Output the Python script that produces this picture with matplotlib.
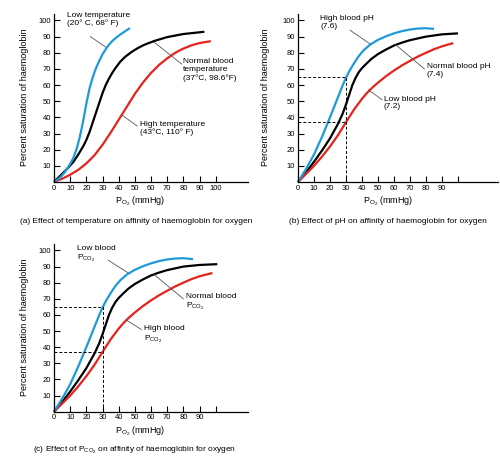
import matplotlib
matplotlib.use('Agg')
import matplotlib.pyplot as plt

plt.rcParams['font.family'] = 'Liberation Sans'
plt.rcParams['mathtext.fontset'] = 'custom'
plt.rcParams['mathtext.rm'] = 'Liberation Sans'
plt.rcParams['mathtext.it'] = 'Liberation Sans'

BLUE = '#1e9ad8'
RED = '#e3231c'
GREY = '#555555'

# (a) temperature
a_low_x = [0, 2, 4, 6, 8, 10, 12, 14, 16, 18, 20, 22, 24, 26, 28, 30, 32, 34, 36, 38, 40, 42, 44, 47]
a_low_y = [0, 1.3, 3, 5.2, 8, 11.2, 15, 20.5, 28, 37.5, 48.5, 58, 65, 70.5, 75, 79, 82.2, 85, 87.2,
           89, 90.6, 92, 93.3, 95.3]
a_norm_x = [0, 4, 8, 12, 15, 18, 20, 22, 24, 26, 28, 30, 32, 34, 36, 38, 41, 44, 48, 52, 56, 62, 70, 80, 93]
a_norm_y = [0, 4, 8, 12.5, 17, 22, 26, 31, 37, 43, 49, 55, 60, 64, 67.5, 70.5, 74.5, 77.5, 80.5, 83,
            85, 87.3, 89.7, 91.6, 93]
a_high_x = [0, 5, 10, 15, 20, 25, 30, 35, 40, 45, 50, 55, 60, 65, 70, 75, 80, 85, 90, 97]
a_high_y = [0, 2, 4.5, 7.5, 11.5, 16.5, 23, 30.5, 38.5, 46.5, 54.5, 61.5, 67.5, 72.5, 76.5, 80, 82.6,
            84.6, 86, 87.2]

# (b) pH
b_high_x = [0, 5, 10, 15, 20, 25, 28, 30, 32, 35, 38, 41, 45, 50, 55, 60, 65, 70, 75, 80, 85]
b_high_y = [0, 8, 17, 28, 40, 52.5, 60, 64.5, 68.5, 73.5, 78, 81.5, 85, 88, 90.2, 92, 93.4, 94.4, 95,
            95.2, 94.8]
b_norm_x = [0, 5, 10, 15, 20, 25, 28, 30, 32, 34, 36, 38, 40, 43, 46, 50, 55, 60, 65, 70, 80, 90, 100]
b_norm_y = [0, 6, 12.5, 19.5, 27, 36, 42.5, 48, 54, 60, 64.5, 68, 70.5, 73.5, 76.3, 79.2, 82, 84.5,
            86.3, 87.8, 90, 91.4, 92]
b_low_x = [0, 5, 10, 15, 20, 25, 30, 35, 40, 43, 46, 50, 55, 60, 65, 70, 75, 80, 85, 90, 97]
b_low_y = [0, 5, 10, 15.7, 22, 29, 37, 44.8, 51.5, 55, 58, 61.5, 65.5, 69, 72.2, 75, 77.7, 80, 82.2,
           84, 86]

# (c) PCO2
c_low_x = [0, 5, 10, 15, 20, 25, 28, 30, 32, 35, 38, 41, 45, 50, 55, 60, 65, 70, 75, 80, 86]
c_low_y = [0, 8, 17, 28, 40, 52.5, 60, 64.5, 68.5, 73.5, 78, 81.5, 85, 88, 90.2, 92, 93.4, 94.4, 95,
           95.2, 94.6]
c_norm_x = [0, 5, 10, 15, 20, 25, 28, 30, 32, 34, 36, 38, 40, 43, 46, 50, 55, 60, 65, 70, 80, 90, 101]
c_norm_y = [0, 6, 12.5, 19.5, 27, 36, 42.5, 48, 54, 60, 64.5, 68, 70.5, 73.5, 76.3, 79.2, 82, 84.5,
            86.3, 87.8, 90, 91, 91.5]
c_high_x = [0, 5, 10, 15, 20, 25, 30, 35, 40, 43, 46, 50, 55, 60, 65, 70, 75, 80, 85, 90, 98]
c_high_y = [0, 5, 10, 15.7, 22, 29, 37, 44.8, 51.5, 55, 58, 61.5, 65.5, 69, 72.2, 75, 77.7, 80, 82.2,
            84, 86]

y_ticks = [10, 20, 30, 40, 50, 60, 70, 80, 90, 100]

W, H = 500, 463
fig = plt.figure(figsize=(5, 4.63), dpi=100)


def px(x, y):
    return x / W, 1 - y / H


def make_axes(left, bottom, right, top, xmax, xticks, xlabels):
    ax = fig.add_axes([left / W, 1 - bottom / H, (right - left) / W, (bottom - top) / H])
    ax.set_xlim(0, xmax)
    ax.set_ylim(0, 104)
    for s in ['top', 'right']:
        ax.spines[s].set_visible(False)
    for s in ['left', 'bottom']:
        ax.spines[s].set_linewidth(0.9)
    ax.set_xticks(xticks)
    ax.set_xticklabels(xlabels)
    ax.set_yticks(y_ticks)
    ax.tick_params(direction='in', length=4, width=0.8, labelsize=5.5, pad=2)
    return ax


def curves(ax, sets):
    for xs, ys, col in sets:
        ax.plot(xs, ys, color=col, lw=1.6, solid_capstyle='butt', solid_joinstyle='round', clip_on=False)


def note(ax, x, y, s, line):
    ax.text(x, y, s, fontsize=6, va='top', ha='left', linespacing=1.15, clip_on=False)
    (x0, y0), (x1, y1) = line
    ax.plot([x0, x1], [y0, y1], color=GREY, lw=0.6, clip_on=False)


def dashes(ax):
    ax.plot([0, 30, 30], [65, 65, 0], color='black', lw=0.7, ls=(0, (3, 2)))
    ax.plot([0, 30], [37, 37], color='black', lw=0.7, ls=(0, (3, 2)))


ticks_a = list(range(0, 101, 10))
labels_a = [str(t) for t in ticks_a]
ticks_b = list(range(0, 101, 10))
labels_b = [str(t) for t in ticks_b[:-1]] + ['']

# (a)
ax = make_axes(54, 182, 248, 14, 120, ticks_a, labels_a)
curves(ax, [(a_norm_x, a_norm_y, 'black'), (a_high_x, a_high_y, RED), (a_low_x, a_low_y, BLUE)])
note(ax, 8, 105.5, 'Low temperature\n(20° C, 68° F)', [(22.5, 90), (32, 83.5)])
note(ax, 80, 76.5, 'Normal blood\ntemperature\n(37°C, 98.6°F)', [(79, 73), (62, 86.5)])
note(ax, 53, 38, 'High temperature\n(43°C, 110° F)', [(51.5, 34.6), (42, 41.5)])

# (b)
ax = make_axes(298, 182, 498, 14, 125, ticks_b, labels_b)
curves(ax, [(b_norm_x, b_norm_y, 'black'), (b_low_x, b_low_y, RED), (b_high_x, b_high_y, BLUE)])
dashes(ax)
note(ax, 14, 103.5, 'High blood pH\n(7.6)', [(32.5, 94), (45, 85.5)])
note(ax, 80.5, 73.5, 'Normal blood pH\n(7.4)', [(79, 70), (61, 85)])
note(ax, 53.5, 53.5, 'Low blood pH\n(7.2)', [(52.5, 51), (44, 57)])

# (c)
ax = make_axes(54, 411.7, 248, 244, 120, ticks_b, labels_b)
curves(ax, [(c_norm_x, c_norm_y, 'black'), (c_high_x, c_high_y, RED), (c_low_x, c_low_y, BLUE)])
dashes(ax)
note(ax, 14.4, 103.5, 'Low blood\nP$_{\\mathregular{CO_2}}$', [(33.5, 94), (46, 86)])
note(ax, 81.5, 73.5, 'Normal blood\nP$_{\\mathregular{CO_2}}$', [(80, 70), (62, 85)])
note(ax, 55.5, 53.5, 'High blood\nP$_{\\mathregular{CO_2}}$', [(54, 51), (44.5, 57)])

# axis titles and captions
po2 = 'P$_{\\mathregular{O_2}}$ (mmHg)'
ylab = 'Percent saturation of haemoglobin'
for (x, y) in [(140, 201), (388, 201), (140, 431)]:
    fig.text(*px(x, y), po2, fontsize=6.5, ha='center', va='center')
for (x, y) in [(25, 97), (265, 97), (25, 327)]:
    fig.text(*px(x, y), ylab, fontsize=6.5, ha='center', va='center', rotation=90)

fig.text(*px(20, 221), '(a) Effect of temperature on affinity of haemoglobin for oxygen',
         fontsize=6, ha='left', va='center')
fig.text(*px(289, 221), '(b) Effect of pH on affinity of haemoglobin for oxygen',
         fontsize=6, ha='left', va='center')
fig.text(*px(33, 450), '(c) Effect of P$_{\\mathregular{CO_2}}$ on affinity of haemoglobin for oxygen',
         fontsize=6, ha='left', va='center')

fig.savefig('out.png', dpi=100)
